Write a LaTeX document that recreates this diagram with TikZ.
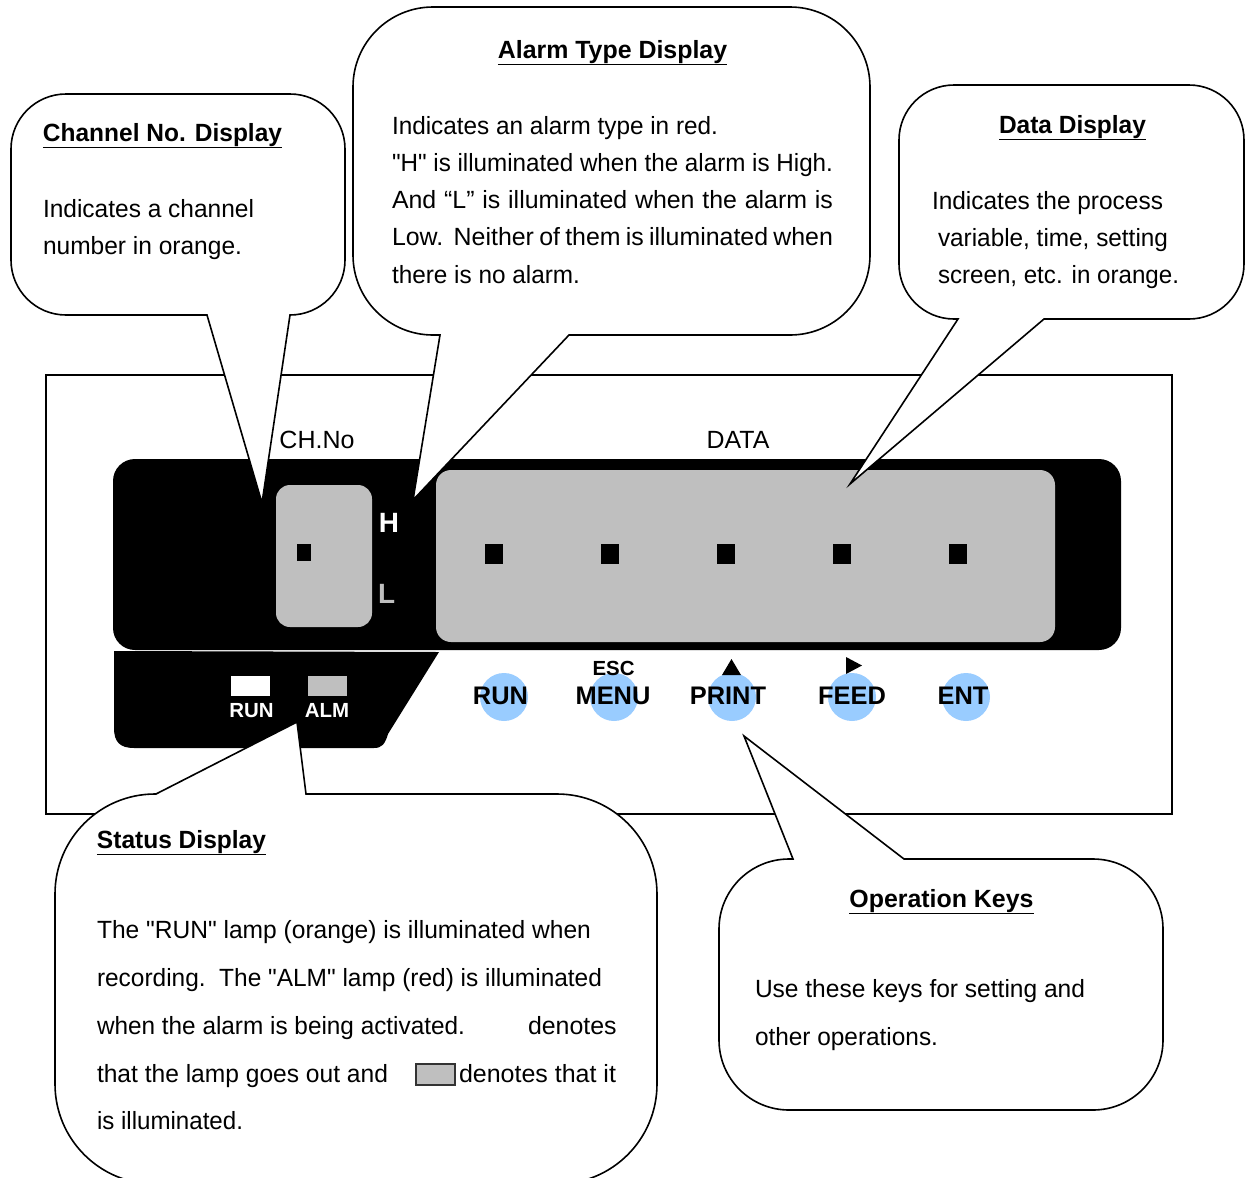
\documentclass[tikz,border=0pt]{standalone}
\usepackage{fontspec}
\setmainfont{Liberation Sans}[Ligatures=TeXOff]
\definecolor{lampgray}{HTML}{BFBFBF}
\definecolor{keyblue}{HTML}{99CCFF}
\newcommand{\bodyfont}{\fontsize{25}{30}\selectfont}
\newcommand{\keyfont}{\fontsize{25.5}{30}\selectfont\bfseries}
\newcommand{\smallbold}{\fontsize{20.5}{24}\selectfont\bfseries}
\newcommand{\fitw}[2]{\resizebox{#1bp}{\height}{#2}}
\newcommand{\qq}{\symbol{34}}
% rounded corner from (#1,#2) round the corner point (#3,#4) to (#5,#6)
\newcommand{\cornr}[6]{.. controls ({#1+0.5523*(#3-#1)},{#2+0.5523*(#4-#2)}) and ({#5+0.5523*(#3-#5)},{#6+0.5523*(#4-#6)}) .. (#5,#6)}
\tikzset{
  callout/.style={draw=black,fill=white,line width=1.6bp,line join=miter},
  txt/.style={anchor=base west,inner sep=0pt,outer sep=0pt,font=\bodyfont},
  head/.style={anchor=base,inner sep=0pt,outer sep=0pt,font=\bodyfont\bfseries},
  keylabel/.style={anchor=base,inner sep=0pt,font=\keyfont,text=black},
  lamplabel/.style={anchor=base,inner sep=0pt,font=\smallbold,text=white},
  keydisc/.style={circle,fill=keyblue,minimum size=48bp,inner sep=0pt},
  seg/.style={fill=black},
}
\begin{document}
\begin{tikzpicture}[x=1bp,y=-1bp]
\useasboundingbox (0,0) rectangle (1250,1178);
\fill[white] (0,0) rectangle (1250,1178);
% casing
\draw[black,line width=1.5bp] (46,375) rectangle (1172,814);
% black display panel
\fill[black,rounded corners=22bp] (113,459) rectangle (1121,650);
\fill[lampgray,rounded corners=14bp] (276,485) rectangle (372,627);
\fill[lampgray,rounded corners=15bp] (436,470) rectangle (1055,642);
\fill[seg] (296.5,544) rectangle (310.5,561);
\foreach \cx in {494,609.5,726,841.5,958} \fill[seg] (\cx-9,544) rectangle (\cx+9,563.5);
\node[anchor=base,inner sep=0pt,font=\fontsize{28}{30}\selectfont\bfseries,text=white] (h) at (389,532) {H};
\node[anchor=base west,inner sep=0pt,font=\fontsize{28}{30}\selectfont\bfseries,text=lampgray] (l) at (378,603) {L};
\node[anchor=base,inner sep=0pt,font=\bodyfont] (chno) at (317,448) {\fitw{75}{CH.No}};
\node[anchor=base,inner sep=0pt,font=\bodyfont] (data) at (738,448) {DATA};
% status panel
\fill[black] (114,651) -- (439,652) -- (388,734) .. controls (385,744) and (382,748) .. (374,748) -- (134,748) .. controls (120,748) and (114,742) .. (114,728) -- cycle;
\fill[white] (231,676) rectangle (270,696);
\fill[lampgray] (308,676) rectangle (347,696);
\node[lamplabel] (lrun) at (251.5,717) {RUN};
\node[lamplabel] (lalm) at (327,717) {ALM};
% keys
\foreach \n/\cx in {a/504,b/614,c/732,d/852,e/966} \node[keydisc] (disc\n) at (\cx,697) {};
\node[keylabel] (krun) at (500.5,704) {RUN};
\node[keylabel] (kmenu) at (613,704) {MENU};
\node[keylabel] (kprint) at (728,704) {PRINT};
\node[keylabel] (kfeed) at (852,704) {FEED};
\node[keylabel] (kent) at (963,704) {ENT};
\node[anchor=base,inner sep=0pt,font=\smallbold] (esc) at (613.5,675) {ESC};
\fill[black] (722,675) -- (741,675) -- (731.5,659) -- cycle;
\fill[black] (846,657) -- (846,674) -- (862,665.5) -- cycle;
% callouts
\draw[callout] (207,315) -- (262,503) -- (290,315) \cornr{290}{315}{345}{315}{345}{260} -- (345,149) \cornr{345}{149}{345}{94}{290}{94} -- (66,94) \cornr{66}{94}{11}{94}{11}{149} -- (11,260) \cornr{11}{260}{11}{315}{66}{315} -- cycle;
\draw[callout] (440,335) -- (413,500) -- (569,335) -- (790,335) \cornr{790}{335}{870}{335}{870}{255} -- (870,87) \cornr{870}{87}{870}{7}{790}{7} -- (433,7) \cornr{433}{7}{353}{7}{353}{87} -- (353,255) \cornr{353}{255}{353}{335}{433}{335} -- cycle;
\draw[callout] (958,319) -- (850,484) -- (1044,319) -- (1189,319) \cornr{1189}{319}{1244}{319}{1244}{264} -- (1244,140) \cornr{1244}{140}{1244}{85}{1189}{85} -- (954,85) \cornr{954}{85}{899}{85}{899}{140} -- (899,264) \cornr{899}{264}{899}{319}{954}{319} -- cycle;
\draw[callout] (156,794) -- (297,722) -- (306,794) -- (557,794) \cornr{557}{794}{657}{794}{657}{894} -- (657,1084) \cornr{657}{1084}{657}{1184}{557}{1184} -- (155,1184) \cornr{155}{1184}{55}{1184}{55}{1084} -- (55,894) \cornr{55}{894}{55}{794}{155}{794} -- cycle;
\draw[callout] (793,859) -- (744,736) -- (904,859) -- (1093,859) \cornr{1093}{859}{1163}{859}{1163}{929} -- (1163,1040) \cornr{1163}{1040}{1163}{1110}{1093}{1110} -- (789,1110) \cornr{789}{1110}{719}{1110}{719}{1040} -- (719,929) \cornr{719}{929}{719}{859}{789}{859} -- cycle;
% callout texts
\node[head] (t1h) at (162.5,141) {\underline{\fitw{239}{Channel No. Display}}};
\node[txt] (t1a) at (43,217) {\fitw{211}{Indicates a channel}};
\node[txt] (t1b) at (43,254) {\fitw{199}{number in orange.}};
\node[head] (t2h) at (612.5,58) {\underline{Alarm Type Display}};
\node[txt] (t2a) at (392,134) {\fitw{326}{Indicates an alarm type in red.}};
\node[txt] (t2b) at (392,171) {\fitw{441}{\qq H\qq{} is illuminated when the alarm is High.}};
\node[txt] (t2c) at (392,208) {\makebox[441bp][s]{And “L” is illuminated when the alarm is}};
\node[txt] (t2d) at (392,245) {\makebox[441bp][s]{Low.\ \ Neither of them is illuminated when}};
\node[txt] (t2e) at (392,283) {\fitw{188}{there is no alarm.}};
\node[head] (t3h) at (1072.5,133) {\underline{\fitw{147}{Data Display}}};
\node[txt] (t3a) at (932,209) {\fitw{231}{Indicates the process}};
\node[txt] (t3b) at (938,246) {\fitw{230}{variable, time, setting}};
\node[txt] (t3c) at (938,283) {\fitw{241}{screen, etc. in orange.}};
\node[head] (t4h) at (181.5,848) {\underline{\fitw{169}{Status Display}}};
\node[txt] (t4a) at (97,938) {\fitw{494}{The \qq RUN\qq{} lamp (orange) is illuminated when}};
\node[txt] (t4b) at (97,986) {\fitw{505}{recording.\ \ The \qq ALM\qq{} lamp (red) is illuminated}};
\node[txt] (t4c) at (97,1034) {\fitw{368}{when the alarm is being activated.}};
\node[txt] (t4c2) at (528,1034) {denotes};
\node[txt] (t4d) at (97,1082) {\fitw{291}{that the lamp goes out and}};
\node[txt] (t4d2) at (459,1082) {\fitw{157}{denotes that it}};
\node[txt] (t4e) at (97,1129) {\fitw{146}{is illuminated.}};
\draw[fill=lampgray,draw=black!80,line width=1.5bp] (416,1064) rectangle (455,1085);
\node[head] (t5h) at (941.5,907) {\underline{Operation Keys}};
\node[txt] (t5a) at (755,997) {\fitw{330}{Use these keys for setting and}};
\node[txt] (t5b) at (755,1045) {\fitw{183}{other operations.}};
\end{tikzpicture}
\end{document}
